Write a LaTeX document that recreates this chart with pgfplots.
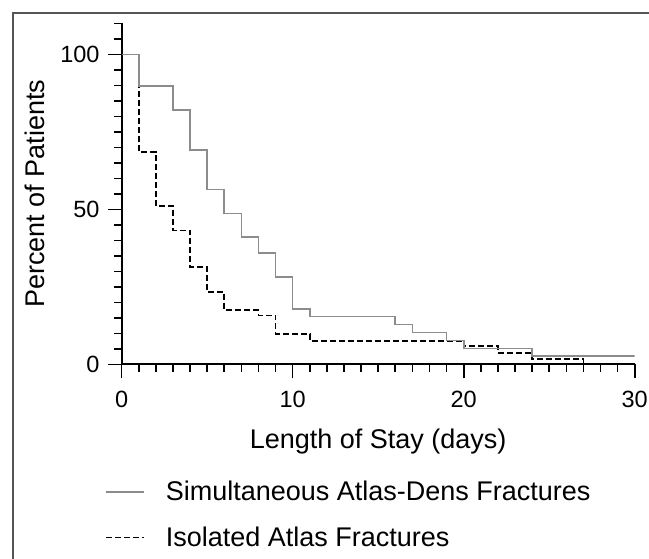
\documentclass[border=0pt]{standalone}
\usepackage{fontspec}
\setmainfont{Liberation Sans}
\usepackage{pgfplots}
\pgfplotsset{compat=1.18}
\definecolor{kmgray}{HTML}{8C8C8C}
\definecolor{framegray}{HTML}{555555}

\begin{document}
\begin{tikzpicture}
\useasboundingbox (0pt,0pt) rectangle (649pt,-558pt);
% panel frame (cropped figure border)
\draw[framegray, line width=1.2pt] (13pt,-570pt) -- (13pt,-13pt) -- (660pt,-13pt);

\begin{axis}[
  at={(121.7pt,-364.3pt)}, anchor=south west,
  width=513pt, height=341pt, scale only axis,
  xmin=0, xmax=30, ymin=0, ymax=110,
  axis x line*=bottom, axis y line*=left,
  axis line style={black, line width=1.8pt},
  xtick={0,10,20,30}, minor xtick={1,...,29},
  ytick={0,50,100}, minor ytick={5,10,...,110},
  tick align=outside,
  major tick length=14pt, minor tick length=7.5pt,
  tick style={black, line width=1.6pt},
  /pgf/number format/assume math mode=true,
  tick label style={font=\fontsize{23.5}{28}\selectfont, inner sep=0pt, text height=16.8pt, text depth=0pt},
  xticklabel style={anchor=north},
  yticklabel style={anchor=east},
  xticklabel shift=12pt,
  yticklabel shift=8pt,
  label style={font=\fontsize{27}{32}\selectfont},
  xlabel={Length of Stay (days)},
  xlabel style={at={(axis description cs:0.5,-0.2475)}, anchor=base},
  ylabel={Percent of Patients},
  ylabel style={at={(axis description cs:-0.151,0.5)}, anchor=base},
  reverse legend,
  legend style={at={(axis description cs:-0.0326,-0.342)}, anchor=north west,
    draw=none, fill=none, inner sep=0pt, outer sep=0pt, row sep=25.5pt,
    font=\fontsize{27}{32}\selectfont,
    nodes={inner sep=0pt, outer sep=0pt, text height=20pt, text depth=0pt, anchor=base west}},
  legend image code/.code={\draw[#1] (0pt,9pt) -- (38pt,9pt); \path[draw=none, fill=none] (0pt,0pt) rectangle (60pt,20pt);},
]
% Isolated atlas fractures (drawn first, under the grey curve)
\addplot[const plot, black, line width=1.6pt, dash pattern=on 6pt off 3pt] coordinates {
(0,100) (1,68.5) (2,51.0) (3,43.2) (4,31.4) (5,23.4) (6,17.5) (8,15.8)
(9,9.7) (11,7.5) (20,5.9) (22,3.7) (24,1.8) (27,0)
};
\addlegendentry{Isolated Atlas Fractures}

% Simultaneous atlas-dens fractures
\addplot[const plot, kmgray, line width=1.6pt] coordinates {
(0,100) (1,89.7) (3,82.1) (4,69.2) (5,56.4) (6,48.7) (7,41.0) (8,35.9)
(9,28.2) (10,17.9) (11,15.4) (16,12.8) (17,10.3) (19,7.7) (20,5.1)
(24,2.6) (30,2.6)
};
\addlegendentry{Simultaneous Atlas-Dens Fractures}
\end{axis}
\end{tikzpicture}
\end{document}
